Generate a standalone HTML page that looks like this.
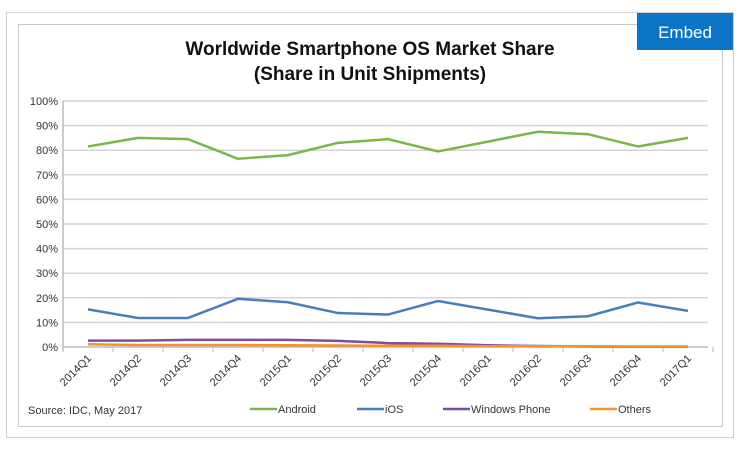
<!DOCTYPE html>
<html><head><meta charset="utf-8"><style>
body{margin:0;width:740px;height:444px;background:#fff;overflow:hidden;font-family:"Liberation Sans",sans-serif;}
</style></head><body>
<svg width="740" height="444" xmlns="http://www.w3.org/2000/svg">
<rect x="6.5" y="12.5" width="727" height="425" fill="#fff" stroke="#d0d0d0"/>
<rect x="18.5" y="24.5" width="704" height="402" fill="#fff" stroke="#c8c8c8"/>
<g>
<rect x="637" y="13" width="96" height="37" fill="#0a74c6"/>
<text x="685" y="38" text-anchor="middle" fill="#fff" font-size="17">Embed</text>
</g>
<text x="370" y="55" text-anchor="middle" font-size="19" font-weight="bold" fill="#111">Worldwide Smartphone OS Market Share</text>
<text x="370" y="80" text-anchor="middle" font-size="19" font-weight="bold" fill="#111">(Share in Unit Shipments)</text>
<g id="grid"></g><g id="axes"></g><g id="series"></g>
<text x="28" y="414" font-size="11" fill="#333">Source: IDC, May 2017</text>
<g id="legend"></g>
</svg>
<script>
const categories=["2014Q1","2014Q2","2014Q3","2014Q4","2015Q1","2015Q2","2015Q3","2015Q4","2016Q1","2016Q2","2016Q3","2016Q4","2017Q1"];
const android=[81.5,85,84.5,76.5,78,83,84.5,79.5,83.5,87.5,86.5,81.5,85];
const ios=[15.3,11.8,11.8,19.6,18.2,13.8,13.2,18.7,15.2,11.7,12.5,18.1,14.7];
const windowsPhone=[2.6,2.6,2.9,2.9,2.9,2.5,1.6,1.3,0.7,0.4,0.2,0.1,0.1];
const others=[1.1,0.8,0.8,0.8,0.7,0.6,0.5,0.5,0.3,0.3,0.3,0.2,0.2];
const yTicks=[0,10,20,30,40,50,60,70,80,90,100];
const ns="http://www.w3.org/2000/svg";
const X0=63,STEP=50,Y0=347,YH=246,XR=708;
const xs=i=>X0+STEP*(i+0.5);
const ys=v=>Y0-v/100*YH;
function mk(t,a,p){const e=document.createElementNS(ns,t);for(const k in a)e.setAttribute(k,a[k]);p.appendChild(e);return e;}
const grid=document.getElementById('grid'),axes=document.getElementById('axes'),ser=document.getElementById('series'),leg=document.getElementById('legend');
yTicks.forEach(v=>{
 const l=mk('line',{x1:X0,x2:XR,y1:ys(v),y2:ys(v),stroke:v===0?'#bbb':'#d4d4d4','stroke-width':1.5},grid);
 
 
 const t=mk('text',{x:X0-5,y:ys(v)+4,'text-anchor':'end','font-size':11,fill:'#333'},axes);
 t.textContent=v+'%';
 
 
});
mk('line',{x1:X0,x2:X0,y1:ys(100),y2:Y0+4,stroke:'#bbb','stroke-width':1.5},axes);
for(let i=0;i<=categories.length;i++){mk('line',{x1:X0+STEP*i,x2:X0+STEP*i,y1:Y0,y2:Y0+5,stroke:'#bbb'},axes);}
categories.forEach((c,i)=>{
 const x=xs(i)+4,y=Y0+12;
 const t=mk('text',{x:x,y:y,'text-anchor':'end','font-size':11,fill:'#333',transform:`rotate(-45 ${x} ${y})`},axes);
 t.textContent=c;
 
 
});
const series=[["Android",android,"#7ab648"],["iOS",ios,"#4a7ebb"],["Windows Phone",windowsPhone,"#7b4fa0"],["Others",others,"#f7922a"]];
series.forEach(([n,d,c])=>{
 const p=mk('polyline',{points:d.map((v,i)=>xs(i)+','+ys(v)).join(' '),fill:'none',stroke:c,'stroke-width':2.5,'stroke-linejoin':'round'},ser);
 
 
});
const legX=[250,357,443,590];
series.forEach(([n,d,c],i)=>{
 const g=mk('g',{},leg);
 
 
 mk('line',{x1:legX[i],x2:legX[i]+27,y1:409,y2:409,stroke:c,'stroke-width':2.5},g);
 const t=mk('text',{x:legX[i]+28,y:413,'font-size':11,fill:'#333'},g);
 t.textContent=n;
});
</script>
</body></html>
